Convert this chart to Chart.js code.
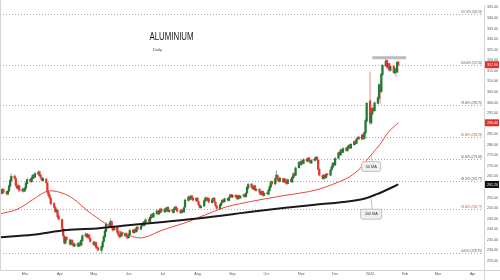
<!DOCTYPE html>
<html>
<head>
<meta charset="utf-8">
<script src="https://cdn.jsdelivr.net/npm/chart.js@4.4.1/dist/chart.umd.min.js"></script>
<style>
  html, body { margin: 0; padding: 0; background: #fff; }
  #wrap { width: 500px; height: 280px; }
</style>
</head>
<body>
<div id="wrap"><canvas id="aluChart" width="500" height="280"></canvas></div>
<script>
// daily sessions, first one on 7 Feb 2023 (weekdays only)
const firstSession = '2023-02-07';

const opens = [
  257.6, 258.6, 257.0, 258.9, 257.8, 256.6, 258.2, 260.4, 263.0, 265.2, 264.0, 260.6, 259.4, 260.6, 258.2, 259.0,
  258.2, 259.4, 261.6, 263.6, 262.5, 264.0, 265.6, 264.6, 266.2, 267.2, 265.6, 264.4, 263.0, 263.8, 261.8, 257.6, 256.2, 254.6, 252.2, 250.4, 248.2, 249.0, 246.2,
  244.6, 240.2, 236.6, 233.4, 236.2, 235.0, 232.8, 234.8, 233.2, 232.0, 233.2, 232.0, 233.6, 232.4, 234.6, 236.8, 237.8, 236.2, 237.4, 235.6,
  234.0, 232.6, 233.8, 231.6, 231.2, 230.0, 231.6, 234.2, 236.4, 239.0, 242.6, 241.4, 243.6, 240.8, 239.8, 241.0, 238.6, 237.0, 236.6, 238.4, 237.0, 237.9, 236.4,
  236.0, 237.4, 239.6, 238.4, 239.8, 238.8, 241.0, 240.0, 241.6, 243.0, 241.8, 243.4, 244.6, 243.6, 245.4, 247.0, 245.8, 247.4, 248.8, 247.2, 248.0, 249.6,
  248.2, 249.8, 248.6, 250.4, 248.4, 249.2, 248.0, 249.4, 250.6, 249.8, 248.8, 247.8, 249.2, 248.2, 250.4, 253.6, 255.4, 254.2, 255.8, 254.8, 253.6,
  254.8, 253.0, 251.4, 250.2, 251.0, 253.4, 255.0, 253.8, 254.6, 252.6, 254.0, 254.8, 252.8, 251.0, 249.6, 251.4, 252.6, 253.8, 253.0, 254.6, 253.6, 255.2, 256.4,
  255.2, 256.2, 255.4, 254.4, 256.0, 254.8, 255.6, 256.4, 255.4, 257.2, 259.6, 261.4, 260.2, 259.0, 260.6, 258.4, 259.0, 257.6, 256.4, 258.0, 256.0,
  257.2, 256.6, 258.4, 260.0, 262.6, 261.4, 264.2, 265.4, 263.6, 262.6, 264.0, 262.4, 263.8, 262.2, 261.6, 263.6, 262.4, 264.4, 266.4, 265.6, 269.2, 271.8,
  270.6, 272.4, 271.2, 273.2, 272.2, 273.8, 272.6, 271.4, 272.6, 273.2, 274.2, 272.6, 268.4, 265.4, 264.0, 265.6, 264.4, 266.2, 265.6, 268.2, 269.4, 271.4,
  270.4, 273.6, 276.4, 275.2, 277.6, 276.4, 278.4, 277.2, 278.6, 279.8, 278.4, 280.0, 281.6, 280.6, 282.8, 283.6, 282.6, 284.8, 283.0, 285.6, 291.2,
  300.8, 290.4, 294.6, 297.4, 296.2, 299.6, 302.0, 308.2, 305.2, 313.2, 317.4, 319.8, 316.6, 318.4, 315.2, 317.2, 314.0, 316.0, 314.4, 319.2
];
const highs = [
  259.4, 259.0, 259.5, 259.2, 258.2, 258.6, 261.0, 263.8, 266.2, 265.8, 264.4, 261.2, 261.4, 260.9, 259.6, 259.4,
  260.0, 262.3, 264.0, 264.0, 264.8, 266.0, 266.0, 266.8, 267.8, 267.5, 266.0, 264.8, 264.6, 264.2, 262.2, 258.4, 256.8, 255.0, 253.0, 250.9, 249.8, 249.4, 246.6,
  245.0, 240.8, 237.2, 236.6, 236.6, 235.4, 235.2, 235.2, 233.8, 233.6, 233.5, 234.0, 234.0, 235.4, 237.4, 238.4, 238.0, 237.8, 237.6, 236.0,
  234.4, 234.2, 234.0, 232.2, 231.5, 232.4, 234.6, 237.0, 239.8, 243.0, 243.4, 244.9, 244.0, 241.4, 241.8, 241.4, 239.0, 237.6, 238.8, 238.8, 238.4, 238.2, 237.0,
  238.0, 239.9, 240.0, 240.2, 240.0, 241.2, 241.4, 242.0, 243.2, 243.4, 244.0, 245.0, 245.0, 246.0, 247.3, 247.4, 248.0, 249.1, 249.0, 248.7, 250.0, 250.0,
  250.1, 250.0, 250.7, 250.6, 249.6, 249.4, 250.0, 251.0, 250.8, 250.1, 249.1, 249.5, 249.4, 250.6, 254.4, 255.8, 255.7, 256.2, 256.0, 255.2, 255.1,
  255.0, 253.4, 251.8, 251.4, 254.0, 255.3, 255.2, 255.0, 254.9, 254.4, 255.1, 255.0, 253.2, 251.4, 252.0, 252.9, 254.2, 254.0, 254.9, 254.8, 255.5, 256.7, 256.6,
  256.5, 256.4, 255.7, 256.3, 256.2, 256.0, 256.8, 256.7, 257.5, 260.3, 261.8, 261.7, 260.5, 260.9, 260.8, 259.4, 259.3, 257.9, 258.3, 258.2, 257.5,
  257.5, 259.0, 260.7, 262.9, 262.9, 264.5, 267.6, 265.8, 263.9, 264.7, 264.3, 264.1, 264.0, 262.5, 263.9, 263.9, 265.1, 266.7, 266.7, 269.5, 272.1, 272.1,
  272.7, 272.6, 273.5, 273.4, 274.1, 274.0, 272.9, 273.0, 273.9, 274.5, 274.4, 273.0, 268.8, 265.8, 266.0, 265.9, 266.5, 266.5, 268.5, 270.1, 271.7, 271.7,
  274.0, 276.7, 276.7, 278.0, 277.9, 278.7, 278.7, 279.3, 280.1, 280.1, 280.7, 282.0, 281.9, 283.1, 283.9, 283.9, 285.1, 285.1, 286.3, 292.0, 300.1,
  314.5, 295.3, 297.7, 297.8, 300.3, 302.7, 309.0, 308.6, 313.9, 318.1, 320.8, 320.1, 318.7, 318.7, 317.5, 317.5, 316.3, 316.3, 319.5, 319.6
];
const lows = [
  257.0, 256.6, 256.8, 257.0, 256.0, 256.2, 257.8, 260.0, 262.6, 263.6, 260.2, 259.0, 259.0, 257.8, 257.9, 257.4,
  257.8, 259.0, 261.2, 262.0, 262.2, 263.6, 264.2, 264.2, 265.6, 265.0, 264.0, 262.6, 262.7, 261.5, 257.0, 255.4, 254.2, 251.4, 250.0, 247.8, 247.9, 245.4, 244.2,
  240.0, 236.2, 232.8, 233.0, 234.6, 232.4, 232.5, 232.8, 231.6, 231.7, 231.5, 231.8, 232.0, 232.1, 234.2, 236.4, 235.8, 235.9, 235.2, 233.6,
  232.2, 232.2, 230.8, 230.4, 229.6, 228.7, 231.2, 233.8, 236.0, 238.6, 240.8, 241.0, 240.4, 239.0, 239.4, 238.0, 236.6, 235.8, 236.2, 236.6, 236.8, 236.0, 235.4,
  235.6, 237.0, 238.0, 238.1, 238.4, 238.5, 239.8, 239.7, 241.2, 241.6, 241.5, 243.0, 243.2, 243.3, 245.0, 245.5, 245.5, 247.0, 246.8, 246.9, 247.7, 248.0,
  247.9, 248.3, 248.3, 248.0, 248.0, 247.6, 247.7, 249.0, 249.2, 248.1, 247.4, 247.5, 247.8, 247.9, 250.0, 253.2, 253.8, 253.9, 254.4, 253.2, 253.3,
  252.8, 251.0, 249.8, 249.9, 250.7, 253.0, 253.4, 253.5, 252.3, 252.3, 253.6, 252.4, 250.7, 249.3, 249.3, 251.0, 252.2, 252.6, 252.7, 253.3, 253.3, 254.8, 254.9,
  254.9, 254.8, 254.1, 254.1, 254.4, 254.5, 255.2, 255.1, 255.1, 256.9, 259.2, 259.5, 258.7, 258.7, 258.1, 258.0, 256.9, 256.0, 256.1, 255.7, 255.7,
  256.3, 256.3, 258.0, 259.7, 261.0, 261.1, 263.8, 262.9, 262.3, 262.3, 262.0, 262.1, 261.5, 261.0, 261.3, 262.1, 262.1, 264.0, 264.9, 265.2, 268.8, 270.3,
  270.3, 270.9, 270.9, 271.8, 271.9, 272.3, 271.1, 271.1, 272.2, 272.9, 272.3, 268.0, 265.1, 263.5, 263.7, 264.1, 264.1, 265.3, 265.3, 267.8, 269.1, 270.0,
  270.1, 273.3, 274.9, 274.9, 276.1, 276.1, 276.8, 276.9, 278.3, 278.0, 278.1, 279.7, 280.3, 280.3, 282.4, 282.3, 282.3, 282.7, 282.7, 285.3, 290.8,
  289.6, 289.8, 294.2, 295.8, 295.9, 299.2, 301.6, 299.7, 304.8, 312.8, 317.0, 316.2, 316.2, 314.8, 314.9, 313.6, 313.7, 312.5, 314.1, 317.4
];
const closes = [
  258.5, 257.2, 258.8, 257.5, 256.8, 258.0, 260.5, 263.2, 265.0, 264.2, 260.8, 259.6, 260.5, 258.4, 258.9, 258.0,
  259.5, 261.8, 263.5, 262.6, 264.2, 265.5, 264.8, 266.3, 267.0, 265.4, 264.6, 263.2, 264.0, 262.0, 257.5, 256.0, 254.8, 252.0, 250.5, 248.4, 249.2, 246.0, 244.8,
  240.5, 236.8, 233.5, 236.0, 235.2, 233.0, 234.6, 233.4, 232.2, 233.0, 232.1, 233.5, 232.6, 234.8, 236.9, 237.6, 236.4, 237.2, 235.8, 234.2,
  232.8, 233.6, 231.5, 231.0, 230.2, 231.8, 234.0, 236.5, 239.2, 242.4, 241.5, 243.8, 241.0, 239.6, 241.2, 238.5, 237.2, 236.4, 238.3, 237.1, 237.8, 236.6, 235.9,
  237.6, 239.4, 238.5, 239.6, 238.9, 240.8, 240.2, 241.5, 242.8, 242.0, 243.6, 244.5, 243.8, 245.6, 246.8, 246.0, 247.5, 248.6, 247.3, 248.2, 249.5, 248.4,
  249.6, 248.8, 250.2, 248.5, 249.0, 248.2, 249.5, 250.4, 249.7, 248.6, 247.9, 249.0, 248.3, 250.1, 253.8, 255.2, 254.4, 255.6, 254.9, 253.8, 254.6,
  253.2, 251.6, 250.4, 250.9, 253.6, 254.8, 253.9, 254.5, 252.8, 253.9, 254.6, 252.9, 251.2, 249.8, 251.5, 252.4, 253.7, 253.1, 254.4, 253.8, 255.0, 256.2, 255.4,
  256.0, 255.3, 254.6, 255.8, 254.9, 255.5, 256.3, 255.6, 257.0, 259.8, 261.2, 260.0, 259.2, 260.4, 258.6, 258.9, 257.4, 256.5, 257.8, 256.2, 257.0,
  256.8, 258.5, 260.2, 262.4, 261.5, 264.0, 265.6, 263.4, 262.8, 264.2, 262.5, 263.6, 262.0, 261.8, 263.4, 262.6, 264.6, 266.2, 265.4, 269.0, 271.6, 270.8,
  272.2, 271.4, 273.0, 272.3, 273.6, 272.8, 271.6, 272.5, 273.4, 274.0, 272.8, 268.5, 265.6, 264.2, 265.5, 264.6, 266.0, 265.8, 268.0, 269.6, 271.2, 270.5,
  273.5, 276.2, 275.4, 277.5, 276.6, 278.2, 277.3, 278.8, 279.6, 278.5, 280.2, 281.5, 280.8, 282.6, 283.4, 282.8, 284.6, 283.2, 285.8, 291.5, 299.6,
  290.6, 294.8, 297.2, 296.4, 299.8, 302.2, 308.5, 305.0, 313.4, 317.6, 319.6, 316.8, 318.2, 315.4, 317.0, 314.2, 315.8, 314.6, 319.0, 317.9
];

// moving averages
const ma50Dates = ['2023-02-07', '2023-02-22', '2023-03-08', '2023-03-17', '2023-03-23', '2023-03-29', '2023-04-07', '2023-04-16',
  '2023-04-24', '2023-05-06', '2023-05-15', '2023-05-24', '2023-06-02', '2023-06-11', '2023-06-20', '2023-06-28', '2023-07-10',
  '2023-07-22', '2023-08-03', '2023-08-15', '2023-08-26', '2023-09-07', '2023-09-16', '2023-10-01', '2023-10-16', '2023-10-31',
  '2023-11-15', '2023-11-29', '2023-12-14', '2023-12-23', '2023-12-29', '2024-01-04', '2024-01-10', '2024-01-17', '2024-01-26'];
const ma50 = [247.3, 249.4, 254.0, 257.1, 258.2, 257.9, 256.3, 253.2, 249.4, 244.7, 241.6, 239.0, 237.0, 235.9, 237.0, 239.0, 241.2,
  243.2, 245.8, 248.3, 250.5, 252.0, 253.0, 254.5, 255.9, 257.1, 258.7, 261.3, 264.9, 268.7, 272.6, 276.5, 280.3, 285.8, 290.4];

const ma200Dates = ['2023-02-07', '2023-03-08', '2023-04-07', '2023-05-06', '2023-06-05', '2023-07-04', '2023-08-03', '2023-09-01',
  '2023-09-16', '2023-10-16', '2023-11-15', '2023-12-14', '2023-12-29', '2024-01-07', '2024-01-16', '2024-01-26'];
const ma200 = [236.2, 237.4, 239.6, 240.5, 242.1, 243.6, 245.2, 247.1, 248.2, 250.1, 251.7, 253.2, 254.8, 256.6, 258.7, 261.2];

// fibonacci retracement
const fibLevels = [0, 0.236, 0.382, 0.5, 0.618, 0.786, 1, 1.272];
const fibPrices = [228.75, 249.77, 262.77, 273.28, 283.78, 298.75, 317.80, 342.02];

const resistance = { from: '2024-01-03', to: '2024-02-02', value: 321.2 };
const maNotes = [
  { text: '50 MA', date: '2024-01-02', value: 275.4 },
  { text: '200 MA', date: '2024-01-02', value: 254.7 }
];

const monthStarts = ['2023-03-01', '2023-04-01', '2023-05-01', '2023-06-01', '2023-07-01', '2023-08-01', '2023-09-01',
  '2023-10-01', '2023-11-01', '2023-12-01', '2024-01-01', '2024-02-01', '2024-03-01', '2024-04-01'];
const monthLabels = ['Mar', 'Apr', 'May', 'Jun', 'Jul', 'Aug', 'Sep', 'Oct', 'Nov', 'Dec', '2024', 'Feb', 'Mar', 'Apr'];
const yTicks = [225, 230, 235, 240, 245, 250, 255, 260, 265, 270, 275, 280, 285, 290, 295, 300, 305, 310, 315, 320, 325, 330, 335, 340, 345];
const xRange = ['2023-02-07', '2024-04-11'];
const yRange = [220.7, 346.1];

const origin = Date.UTC(2023, 2, 1);
function dayNum(d) { return Math.round((d.getTime() - origin) / 86400000); }
function dayOf(str) { return dayNum(new Date(str + 'T00:00:00Z')); }
function tradingDays(start, count) {
  const out = [];
  const d = new Date(start + 'T00:00:00Z');
  while (out.length < count) {
    const wd = d.getUTCDay();
    if (wd !== 0 && wd !== 6) out.push(dayNum(d));
    d.setUTCDate(d.getUTCDate() + 1);
  }
  return out;
}

const GREEN = '#1f7a35', RED = '#e3372d';
const days = tradingDays(firstSession, closes.length);
const bodyColors = closes.map((c, i) => c >= opens[i] ? GREEN : RED);
const wickColors = closes.map((c, i) => c >= opens[i] ? '#86c093' : '#f1a39c');
const bodyData = days.map((d, i) => ({ x: d, y: [opens[i], closes[i]] }));
const wickData = days.map((d, i) => ({ x: d, y: [lows[i], highs[i]] }));
const ma50Data = ma50Dates.map((s, i) => ({ x: dayOf(s), y: ma50[i] }));
const ma200Data = ma200Dates.map((s, i) => ({ x: dayOf(s), y: ma200[i] }));
const monthDays = monthStarts.map(dayOf);

const FONT = '"Liberation Sans", Arial, sans-serif';
const noteDrop = [7, 11];

const overlays = {
  id: 'overlays',
  beforeDatasetsDraw(chart) {
    const { ctx, chartArea: a, scales: { y } } = chart;
    ctx.save();
    ctx.lineWidth = 1;
    ctx.setLineDash([1, 2]);
    ctx.font = '4px ' + FONT;
    ctx.textAlign = 'right';
    fibLevels.forEach((lvl, i) => {
      const py = Math.round(y.getPixelForValue(fibPrices[i])) + 0.5;
      const warm = lvl === 0.236 || lvl === 0.618;
      ctx.strokeStyle = warm ? '#ee8e87' : '#a9a9a9';
      ctx.beginPath();
      ctx.moveTo(a.left, py);
      ctx.lineTo(a.right - 2, py);
      ctx.stroke();
      ctx.fillStyle = warm ? '#e0483e' : '#555';
      ctx.fillText((lvl * 100).toFixed(2) + '% (' + fibPrices[i].toFixed(2) + ')', a.right - 2, py - 2, 21);
    });
    ctx.restore();
  },
  afterDatasetsDraw(chart) {
    const { ctx, scales: { x, y } } = chart;
    ctx.save();
    // resistance marker
    const ry = y.getPixelForValue(resistance.value);
    const rx0 = x.getPixelForValue(dayOf(resistance.from));
    const rx1 = x.getPixelForValue(dayOf(resistance.to));
    ctx.fillStyle = '#bcbcbc';
    ctx.fillRect(rx0, ry - 1.5, rx1 - rx0, 3);

    ctx.font = '3.8px ' + FONT;
    ctx.textAlign = 'center';
    ctx.textBaseline = 'middle';
    maNotes.forEach((n, i) => {
      const px = x.getPixelForValue(dayOf(n.date));
      const py = y.getPixelForValue(n.value);
      const w = ctx.measureText(n.text).width + 8;
      const h = 10;
      const top = py + noteDrop[i];
      ctx.strokeStyle = '#b5b5b5';
      ctx.lineWidth = 0.8;
      ctx.beginPath();
      ctx.moveTo(px, py);
      ctx.lineTo(px + 1, top);
      ctx.stroke();
      ctx.fillStyle = '#efefef';
      ctx.beginPath();
      ctx.roundRect(px - w / 2, top, w, h, 2);
      ctx.fill();
      ctx.stroke();
      ctx.fillStyle = '#333';
      ctx.fillText(n.text, px, top + h / 2);
    });
    ctx.restore();
  },
  afterDraw(chart) {
    const { ctx, chartArea: a, scales: { y } } = chart;
    ctx.save();
    // title
    ctx.fillStyle = '#151515';
    ctx.textAlign = 'left';
    ctx.font = '11.5px ' + FONT;
    ctx.fillText('ALUMINIUM', 149.5, 39.5, 44);
    ctx.font = '4px ' + FONT;
    ctx.fillStyle = '#444';
    ctx.fillText('Daily', 153, 50.5);

    // price tags on the axis
    const tags = [
      { v: closes[closes.length - 1], c: '#e0302a' },
      { v: ma50[ma50.length - 1], c: '#e0302a' },
      { v: ma200[ma200.length - 1], c: '#111' }
    ];
    ctx.font = '3.6px ' + FONT;
    ctx.textBaseline = 'middle';
    tags.forEach(t => {
      const py = y.getPixelForValue(t.v);
      ctx.fillStyle = t.c;
      ctx.fillRect(a.right + 1, py - 3.5, 14, 7);
      ctx.fillStyle = '#fff';
      ctx.fillText(t.v.toFixed(2), a.right + 3, py + 0.3);
    });

    // frame bits
    ctx.strokeStyle = '#d4d4d4';
    ctx.lineWidth = 1;
    ctx.beginPath();
    ctx.moveTo(0.5, 0);
    ctx.lineTo(0.5, a.bottom);
    ctx.moveTo(a.right, a.bottom + 0.5);
    ctx.lineTo(500, a.bottom + 0.5);
    ctx.moveTo(a.right + 0.5, a.bottom);
    ctx.lineTo(a.right + 0.5, 280);
    ctx.stroke();
    ctx.restore();
  }
};

new Chart(document.getElementById('aluChart'), {
  type: 'bar',
  data: {
    datasets: [
      { type: 'line', data: ma200Data, borderColor: '#1a1a1a', borderWidth: 2, pointRadius: 0, cubicInterpolationMode: 'monotone', order: 0 },
      { type: 'line', data: ma50Data, borderColor: '#e5473d', borderWidth: 1, pointRadius: 0, cubicInterpolationMode: 'monotone', order: 1 },
      { data: bodyData, backgroundColor: bodyColors, barThickness: 1.6, minBarLength: 0.6, grouped: false, order: 2 },
      { data: wickData, backgroundColor: wickColors, barThickness: 0.6, grouped: false, order: 3 }
    ]
  },
  options: {
    responsive: false,
    animation: false,
    devicePixelRatio: 1,
    layout: { padding: 0 },
    plugins: { legend: { display: false }, tooltip: { enabled: false } },
    scales: {
      x: {
        type: 'linear',
        min: dayOf(xRange[0]),
        max: dayOf(xRange[1]),
        offset: false,
        grid: { display: false, drawTicks: false },
        border: { display: true, color: '#d4d4d4' },
        afterBuildTicks: scale => { scale.ticks = monthDays.map(v => ({ value: v })); },
        afterFit: scale => { scale.height = 10; },
        ticks: {
          autoSkip: false,
          maxRotation: 0,
          padding: 2,
          color: '#555',
          font: { size: 3.6, family: FONT },
          callback: (value, index) => monthLabels[index]
        }
      },
      y: {
        type: 'linear',
        position: 'right',
        min: yRange[0],
        max: yRange[1],
        grid: { display: false, drawTicks: false },
        border: { display: true, color: '#d4d4d4' },
        afterBuildTicks: scale => { scale.ticks = yTicks.map(v => ({ value: v })); },
        afterFit: scale => { scale.width = 16; },
        ticks: {
          autoSkip: false,
          padding: 3,
          color: '#555',
          font: { size: 3.6, family: FONT },
          callback: value => Number(value).toFixed(2)
        }
      }
    }
  },
  plugins: [overlays]
});
</script>
</body>
</html>
